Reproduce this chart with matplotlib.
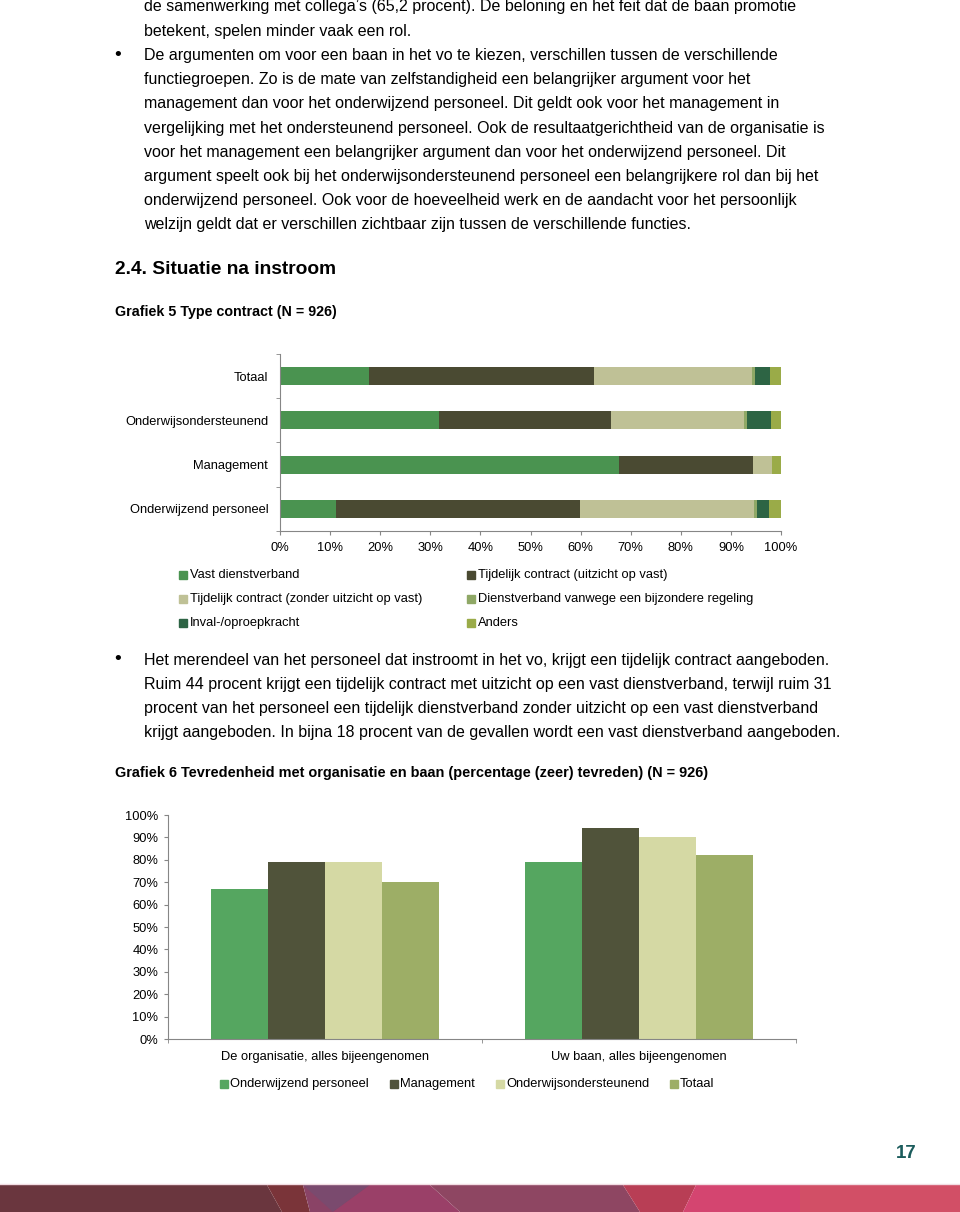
import matplotlib
matplotlib.use("Agg")
import matplotlib.pyplot as plt
import numpy as np
from matplotlib.patches import Polygon

plt.rcParams['font.family'] = ['Liberation Sans', 'DejaVu Sans']

# ---- data grafiek 5 (aandelen, totaal 100) ----
groepen = ["Totaal", "Onderwijsondersteunend", "Management", "Onderwijzend personeel"]
contract_types = ["Vast dienstverband", "Tijdelijk contract (uitzicht op vast)",
                  "Tijdelijk contract (zonder uitzicht op vast)",
                  "Dienstverband vanwege een bijzondere regeling",
                  "Inval-/oproepkracht", "Anders"]
vast = [17.8, 31.7, 67.7, 11.1]
tijd_uitzicht = [44.8, 34.4, 26.7, 48.8]
tijd_zonder = [31.7, 26.6, 3.8, 34.7]
bijzonder = [0.6, 0.5, 0.0, 0.7]
inval = [2.9, 4.8, 0.0, 2.4]
anders = [2.2, 2.0, 1.8, 2.3]
kleuren5 = ["#4a9350", "#4a4a32", "#bfc196", "#8fa866", "#2d6444", "#9aab48"]

# ---- data grafiek 6 ----
aspecten = ["De organisatie, alles bijeengenomen", "Uw baan, alles bijeengenomen"]
functies = ["Onderwijzend personeel", "Management", "Onderwijsondersteunend", "Totaal"]
onderwijzend = [67, 79]
management = [79, 94]
ondersteunend = [79, 90]
totaal = [70, 82]
kleuren6 = ["#55a660", "#50533a", "#d5d9a4", "#9dae66"]

W, H = 960, 1212
fig = plt.figure(figsize=(W / 100, H / 100), dpi=100)
bg = fig.add_axes([0, 0, 1, 1])
bg.set_xlim(0, W)
bg.set_ylim(H, 0)
bg.axis("off")


def box(x, y, w, h):
    return [x / W, 1 - (y + h) / H, w / W, h / H]


# ---- lopende tekst ----
alinea1 = [
    "de samenwerking met collega’s (65,2 procent). De beloning en het feit dat de baan promotie",
    "betekent, spelen minder vaak een rol.",
    "De argumenten om voor een baan in het vo te kiezen, verschillen tussen de verschillende",
    "functiegroepen. Zo is de mate van zelfstandigheid een belangrijker argument voor het",
    "management dan voor het onderwijzend personeel. Dit geldt ook voor het management in",
    "vergelijking met het ondersteunend personeel. Ook de resultaatgerichtheid van de organisatie is",
    "voor het management een belangrijker argument dan voor het onderwijzend personeel. Dit",
    "argument speelt ook bij het onderwijsondersteunend personeel een belangrijkere rol dan bij het",
    "onderwijzend personeel. Ook voor de hoeveelheid werk en de aandacht voor het persoonlijk",
    "welzijn geldt dat er verschillen zichtbaar zijn tussen de verschillende functies.",
]
for i, regel in enumerate(alinea1):
    bg.text(144, 7 + i * 24.2, regel, fontsize=11.5, va="center", ha="left")
bg.text(118, 55, "•", fontsize=14, va="center", ha="center")

bg.text(115, 269, "2.4. Situatie na instroom", fontsize=13.8, fontweight="bold", va="center")
bg.text(115, 312, "Grafiek 5 Type contract (N = 926)", fontsize=10.3, fontweight="bold", va="center")

alinea2 = [
    "Het merendeel van het personeel dat instroomt in het vo, krijgt een tijdelijk contract aangeboden.",
    "Ruim 44 procent krijgt een tijdelijk contract met uitzicht op een vast dienstverband, terwijl ruim 31",
    "procent van het personeel een tijdelijk dienstverband zonder uitzicht op een vast dienstverband",
    "krijgt aangeboden. In bijna 18 procent van de gevallen wordt een vast dienstverband aangeboden.",
]
for i, regel in enumerate(alinea2):
    bg.text(144, 660 + i * 24, regel, fontsize=11.5, va="center", ha="left")
bg.text(118, 660, "•", fontsize=14, va="center", ha="center")

bg.text(115, 773, "Grafiek 6 Tevredenheid met organisatie en baan (percentage (zeer) tevreden) (N = 926)",
        fontsize=10.45, fontweight="bold", va="center")

# ---- grafiek 5 ----
ax1 = fig.add_axes(box(280, 354, 501, 177))
reeksen5 = [vast, tijd_uitzicht, tijd_zonder, bijzonder, inval, anders]
y = np.arange(len(groepen))
links = np.zeros(len(groepen))
for waarden, kleur in zip(reeksen5, kleuren5):
    w = np.array(waarden) / 100
    ax1.barh(y, w, left=links, height=0.41, color=kleur, linewidth=0)
    links += w
ax1.set_xlim(0, 1)
ax1.set_ylim(len(groepen) - 0.5, -0.5)
ax1.set_xticks(np.linspace(0, 1, 11))
ax1.set_xticklabels([f"{int(v)}%" for v in np.linspace(0, 100, 11)])
ax1.set_yticks(y)
ax1.set_yticklabels(groepen)
ax1.set_yticks(np.arange(-0.5, len(groepen)), minor=True)
ax1.tick_params(axis="y", which="major", length=0, pad=8.5, labelsize=9.3)
ax1.tick_params(axis="y", which="minor", length=3, color="#868686")
ax1.tick_params(axis="x", length=3, color="#868686", pad=5, labelsize=9.3)
for s in ["top", "right"]:
    ax1.spines[s].set_visible(False)
for s in ["left", "bottom"]:
    ax1.spines[s].set_color("#868686")
    ax1.spines[s].set_linewidth(0.8)

# legenda grafiek 5
for i, (naam, kleur) in enumerate(zip(contract_types, kleuren5)):
    lx = 183 if i % 2 == 0 else 471
    ly = 575 + (i // 2) * 24
    bg.plot(lx, ly, marker="s", markersize=5.5, color=kleur, linestyle="none")
    bg.text(lx + 7, ly, naam, fontsize=9.3, va="center", ha="left")

# ---- grafiek 6 ----
ax2 = fig.add_axes(box(168, 815, 628, 224))
reeksen6 = [onderwijzend, management, ondersteunend, totaal]
x = np.arange(len(aspecten)) + 0.5
bw = 0.1815
for k, (waarden, kleur) in enumerate(zip(reeksen6, kleuren6)):
    ax2.bar(x + (k - 1.5) * bw, np.array(waarden) / 100, width=bw, color=kleur, linewidth=0)
ax2.set_xlim(0, len(aspecten))
ax2.set_ylim(0, 1)
ax2.set_yticks(np.linspace(0, 1, 11))
ax2.set_yticklabels([f"{int(v)}%" for v in np.linspace(0, 100, 11)])
ax2.set_xticks(x)
ax2.set_xticklabels(aspecten)
ax2.set_xticks(np.arange(0, len(aspecten) + 1), minor=True)
ax2.tick_params(axis="x", which="major", length=0, pad=8.5, labelsize=9.3)
ax2.tick_params(axis="x", which="minor", length=3, color="#868686")
ax2.tick_params(axis="y", length=3, color="#868686", pad=4, labelsize=9.3)
for s in ["top", "right"]:
    ax2.spines[s].set_visible(False)
for s in ["left", "bottom"]:
    ax2.spines[s].set_color("#868686")
    ax2.spines[s].set_linewidth(0.8)

# legenda grafiek 6
leg_x = [224, 394, 500, 674]
for lx, naam, kleur in zip(leg_x, functies, kleuren6):
    bg.plot(lx, 1084, marker="s", markersize=5.5, color=kleur, linestyle="none")
    bg.text(lx + 6, 1084, naam, fontsize=9.3, va="center", ha="left")

# ---- paginanummer en voetbalk ----
bg.text(917, 1154, "17", fontsize=13.5, fontweight="bold", color="#1b5c5c", va="center", ha="right")

y0, y1 = 1185, 1212
vlakken = [
    ([0, 267, 282, 0], "#6a363e"),
    ([267, 303, 310, 282], "#7a3439"),
    ([303, 370, 400, 310], "#8a4366"),
    ([303, 370, 333, 333], "#7a4a6e"),
    ([370, 430, 460, 333], "#9a4068"),
    ([430, 623, 640, 460], "#8e4662"),
    ([623, 696, 683, 640], "#b83e55"),
    ([696, 800, 800, 683], "#d44570"),
    ([800, 960, 960, 800], "#d24f66"),
]
for xs, kleur in vlakken:
    bg.add_patch(Polygon([(xs[0], y0), (xs[1], y0), (xs[2], y1), (xs[3], y1)],
                         closed=True, facecolor=kleur, edgecolor="none"))
bg.plot([0, W], [y0 - 1, y0 - 1], color="#f2dde3", linewidth=1)

fig.savefig("out.png", dpi=100)
